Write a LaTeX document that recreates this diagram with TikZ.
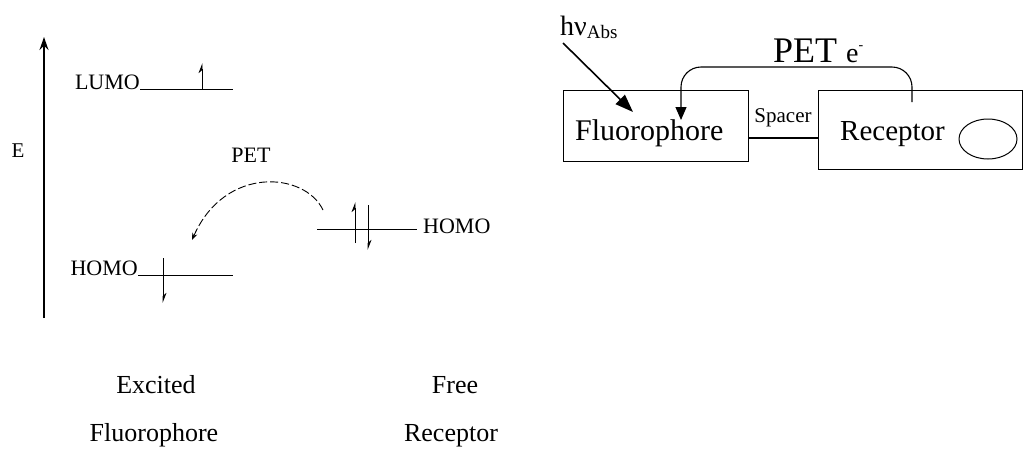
\documentclass[tikz,border=0pt]{standalone}
\usepackage{fontspec}
\setmainfont{Liberation Serif}
\usetikzlibrary{arrows.meta}

\begin{document}
\begin{tikzpicture}[x=1pt,y=-1pt,>=Stealth,
  lvl/.style={line width=.9pt},
  orb/.style={font=\fontsize{22}{24}\selectfont,inner sep=0pt},
  captxt/.style={font=\fontsize{26}{28}\selectfont,inner sep=0pt},
  box/.style={draw,line width=1.1pt,inner sep=0pt},
  spin/.style={line width=.9pt,-{Stealth[left,length=9pt,width=7pt]}}]
\useasboundingbox (0,0) rectangle (1025,456);
% energy diagram
\coordinate (axbot) at (44,318);
\coordinate (axtop) at (44,37);
\draw[line width=1.6pt,-{Stealth[length=13pt,width=9pt]}] (axbot) -- (axtop);
\node[font=\fontsize{21}{24}\selectfont,inner sep=0pt] (e) at (18,151) {E};
\node[orb,anchor=base east] (lumo) at (140,89) {LUMO};
\coordinate (lumoend) at (233,89);
\draw[lvl] (lumo.base east) -- (lumoend);
\draw[spin] (202,89) -- (202,63);
\node[orb,anchor=base east] (homoa) at (138,275) {HOMO};
\coordinate (homoaend) at (233,275);
\draw[lvl] (homoa.base east) -- (homoaend);
\draw[spin] (163,258) -- (163,303);
\node[orb,anchor=base west] (homob) at (423,233) {HOMO};
\coordinate (homobstart) at (317,229);
\draw[lvl] (homobstart) -- ([xshift=-6pt]homob.west |- homobstart);
\draw[spin] (355,243) -- (355,202);
\draw[spin] (368,205) -- (368,250);
\node[orb] (pet) at (251,155) {PET};
\coordinate (arcs) at (323,210);
\coordinate (arce) at (192,240);
\draw[lvl,dash pattern=on 8pt off 3pt,->] (arcs) .. controls (305,172) and (225,165) .. (arce);
\node[captxt,anchor=base] (exc) at (156,393) {Excited};
\node[captxt,anchor=base] (excf) at (154,441) {Fluorophore};
\node[captxt,anchor=base] (free) at (455,393) {Free};
\node[captxt,anchor=base] (freer) at (451,441) {Receptor};
% fluorophore - spacer - receptor
\node[box,minimum width=185pt,minimum height=71pt,anchor=north west] (fluo) at (563,90) {};
\node[box,minimum width=204pt,minimum height=79pt,anchor=north west] (recep) at (818,90) {};
\coordinate (spb) at (0,138);
\draw[line width=1.1pt] (fluo.east |- spb) -- (recep.west |- spb);
\node[font=\fontsize{30}{32}\selectfont,inner sep=0pt,anchor=base west] (fluotxt) at (575,140) {Fluorophore};
\node[font=\fontsize{29}{32}\selectfont,inner sep=0pt,anchor=base west] (rectxt) at (840,140) {Receptor};
\node[font=\fontsize{21}{24}\selectfont,inner sep=0pt,anchor=base] (spacer) at (783,122) {Spacer};
\draw[line width=1pt] (988,139) ellipse [x radius=29pt,y radius=20pt];
\node[font=\fontsize{28}{30}\selectfont,inner sep=0pt,anchor=base west] (hv) at (560,35)
  {hν\raisebox{-3pt}{\fontsize{19}{20}\selectfont Abs}};
\coordinate (hvtip) at (633,112);
\draw[line width=1.6pt,-{Triangle[length=18pt,width=13pt]}] ([shift={(3,8)}]hv.base west) -- (hvtip);
\node[font=\fontsize{36}{38}\selectfont,inner sep=0pt,anchor=base west] (pete) at (773,62)
  {PET\hspace{9pt}{\fontsize{28}{30}\selectfont e\raisebox{13pt}{\fontsize{14}{14}\selectfont -}}};
\coordinate (petstart) at (912,102);
\coordinate (petend) at (681,120);
\coordinate (pettop) at (0,67);
\draw[line width=1.1pt,rounded corners=20pt,-{Triangle[length=13pt,width=11pt]}]
  (petstart) |- (petend |- pettop) -- (petend);
\end{tikzpicture}
\end{document}
